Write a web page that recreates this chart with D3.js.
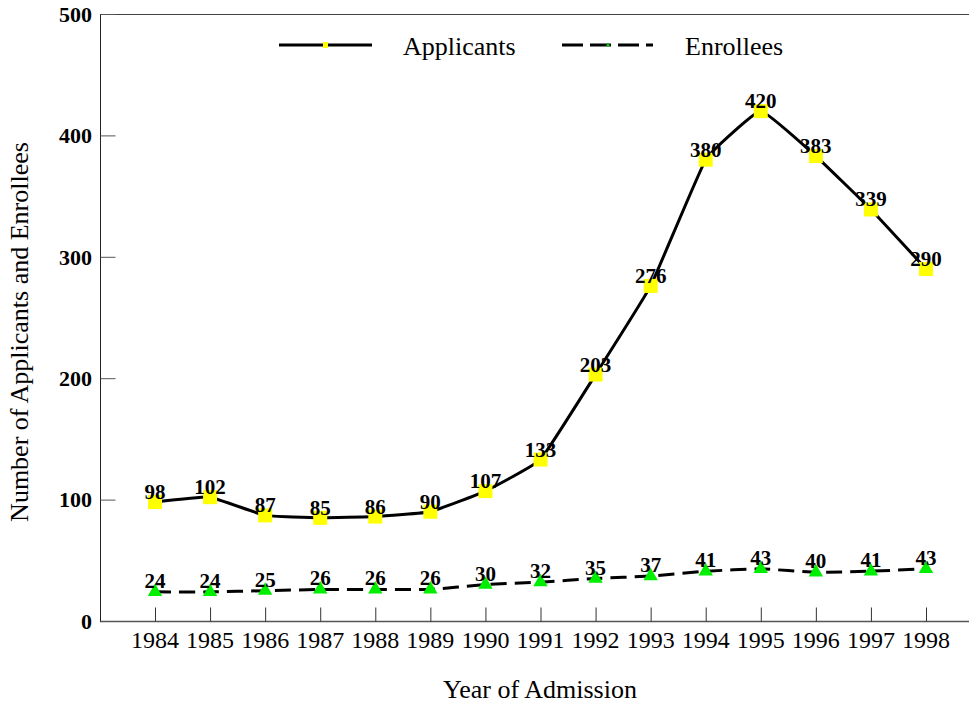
<!DOCTYPE html>
<html><head><meta charset="utf-8">
<script src="https://cdn.jsdelivr.net/npm/d3@7"></script>
<style>body{margin:0;background:#fff}svg{display:block}</style>
</head><body><svg id="c" width="969" height="704"></svg>
<script>
const years = [1984,1985,1986,1987,1988,1989,1990,1991,1992,1993,1994,1995,1996,1997,1998];
const applicants = [98,102,87,85,86,90,107,133,203,276,380,420,383,339,290];
const enrollees = [24,24,25,26,26,26,30,32,35,37,41,43,40,41,43];
const yTicks = [0,100,200,300,400,500];
const seriesNames = ["Applicants","Enrollees"];
const FONT = "Liberation Serif";

const svg = d3.select("#c");
const x = d3.scalePoint().domain(years).range([155,926]);
const y = d3.scaleLinear().domain([0,500]).range([621,14]);

// frame lines
svg.append("line").attr("x1",100).attr("x2",969).attr("y1",14.5).attr("y2",14.5).attr("stroke","#444").attr("stroke-width",1);
svg.append("line").attr("x1",100).attr("x2",969).attr("y1",621.5).attr("y2",621.5).attr("stroke","#555").attr("stroke-width",1.5);
svg.append("line").attr("x1",100.5).attr("x2",100.5).attr("y1",14).attr("y2",622).attr("stroke","#222").attr("stroke-width",1);

// y axis
const ya = svg.append("g").attr("transform","translate(100.5,0)")
  .call(d3.axisRight(y).tickValues(yTicks).tickSize(15).tickFormat(""));
ya.select(".domain").remove();
ya.selectAll("line").attr("stroke","#555");
svg.selectAll(".ylab").data(yTicks).join("text")
  .attr("x",92).attr("y",d=>y(d)).attr("dy","0.35em").attr("text-anchor","end")
  .attr("font-size",22).attr("font-weight","bold").style("font-family",FONT).text(d=>d);

// x axis
const xa = svg.append("g").attr("transform","translate(0,621.5)")
  .call(d3.axisTop(x).tickSize(14).tickFormat(""));
xa.select(".domain").remove();
xa.selectAll("line").attr("stroke","#333");
svg.selectAll(".xlab").data(years).join("text")
  .attr("x",d=>x(d)).attr("y",648).attr("text-anchor","middle")
  .attr("font-size",24).style("font-family",FONT).text(d=>d);

// axis titles
svg.append("text").attr("x",540).attr("y",698).attr("text-anchor","middle").attr("font-size",26).style("font-family",FONT).text("Year of Admission");
svg.append("text").attr("transform","translate(28,332) rotate(-90)").attr("text-anchor","middle").attr("font-size",26).style("font-family",FONT).text("Number of Applicants and Enrollees");

// lines
const curve = d3.curveCardinal.tension(0.7);
const lineGen = d3.line().x((d,i)=>x(years[i])).y(d=>y(d)).curve(curve);
svg.append("path").datum(applicants).attr("d",lineGen).attr("fill","none").attr("stroke","#000").attr("stroke-width",3);
svg.append("path").datum(enrollees).attr("d",lineGen).attr("fill","none").attr("stroke","#000").attr("stroke-width",3).attr("stroke-dasharray","16,8");

// markers
const sq = 14;
svg.selectAll(".sq").data(applicants).join("rect")
  .attr("x",(d,i)=>x(years[i])-sq/2).attr("y",d=>y(d)-sq/2).attr("width",sq).attr("height",sq).attr("fill","#ffff00");
const tri = d3.symbol().type(d3.symbolTriangle).size(90);
svg.selectAll(".tr").data(enrollees).join("path")
  .attr("d",tri).attr("transform",(d,i)=>`translate(${x(years[i])},${y(d)})`).attr("fill","#00ee00");

// data labels
svg.selectAll(".al").data(applicants).join("text")
  .attr("x",(d,i)=>x(years[i])).attr("y",d=>y(d)-3).attr("text-anchor","middle")
  .attr("font-size",21).attr("font-weight","bold").style("font-family",FONT).text(d=>d);
svg.selectAll(".el").data(enrollees).join("text")
  .attr("x",(d,i)=>x(years[i])).attr("y",d=>y(d)-4).attr("text-anchor","middle")
  .attr("font-size",21).attr("font-weight","bold").style("font-family",FONT).text(d=>d);

// legend
const lg = svg.append("g");
lg.append("line").attr("x1",279).attr("x2",372).attr("y1",45).attr("y2",45).attr("stroke","#000").attr("stroke-width",3);
lg.append("rect").attr("x",323).attr("y",42).attr("width",5).attr("height",6).attr("fill","#ffff00");
lg.append("text").attr("x",403).attr("y",55).attr("font-size",26).style("font-family",FONT).text(seriesNames[0]);
lg.append("line").attr("x1",562).attr("x2",653).attr("y1",45).attr("y2",45).attr("stroke","#000").attr("stroke-width",3).attr("stroke-dasharray","21,7");
lg.append("path").attr("d",d3.symbol().type(d3.symbolTriangle).size(8)).attr("transform","translate(608,45)").attr("fill","#00cc00");
lg.append("text").attr("x",685).attr("y",55).attr("font-size",26).style("font-family",FONT).text(seriesNames[1]);
</script></body></html>
